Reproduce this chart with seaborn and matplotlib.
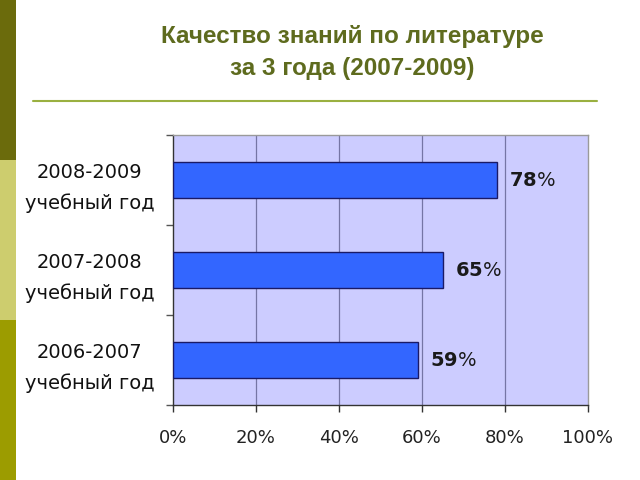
import matplotlib
matplotlib.use("Agg")
import matplotlib.pyplot as plt
import seaborn as sns
import pandas as pd
from matplotlib.patches import Rectangle
from matplotlib.lines import Line2D

categories = ["2008-2009\nучебный год", "2007-2008\nучебный год", "2006-2007\nучебный год"]
values = [78, 65, 59]
xticks = [0, 20, 40, 60, 80, 100]
xtick_labels = ["0%", "20%", "40%", "60%", "80%", "100%"]
title_line1 = "Качество знаний по литературе"
title_line2 = "за 3 года (2007-2009)"

df = pd.DataFrame({"cat": categories, "val": values})

sns.set_theme(style="white")
plt.rcParams["font.family"] = ["DejaVu Sans"]

fig = plt.figure(figsize=(6.4, 4.8), dpi=100)
fig.patch.set_facecolor("white")

# left decorative strip
for y0, h, c in [(2/3, 1/3, "#6B6B0C"), (1/3, 1/3, "#CDCD6E"), (0, 1/3, "#9C9C00")]:
    fig.patches.append(Rectangle((0, y0), 16/640, h, transform=fig.transFigure,
                                 facecolor=c, edgecolor="none", zorder=0))

# title
fig.text(352/640, 1 - 37/480, title_line1, ha="center", va="center", fontsize=17.5,
         fontweight="bold", color="#5E6B1E", family=["Liberation Sans", "DejaVu Sans"])
fig.text(352/640, 1 - 68/480, title_line2, ha="center", va="center", fontsize=17.5,
         fontweight="bold", color="#5E6B1E", family=["Liberation Sans", "DejaVu Sans"])
fig.lines.append(Line2D([33/640, 597/640], [1 - 101/480, 1 - 101/480],
                        transform=fig.transFigure, color="#9AB040", lw=1.5))

ax = fig.add_axes([173/640, 1 - 405/480, 415/640, 270/480])
ax.set_facecolor("#CCCCFF")
sns.barplot(data=df, x="val", y="cat", orient="h", order=categories, width=0.4,
            color="#3366FF", edgecolor="#1A1A66", linewidth=1, saturation=1, ax=ax,
            zorder=3)

ax.set_xlim(0, 100)
ax.set_ylim(2.5, -0.5)
ax.set_xticks(xticks)
ax.set_xticklabels(xtick_labels, fontsize=13, color="#222222")
ax.tick_params(axis="x", length=5, width=1, color="#333333", pad=12, direction="out",
               bottom=True)
ax.set_yticks(range(len(categories)))
ax.set_yticklabels(categories, fontsize=14, ha="center", linespacing=1.75, color="#111111")
ax.tick_params(axis="y", length=0, pad=60)
ax.set_yticks([-0.5, 0.5, 1.5, 2.5], minor=True)
ax.tick_params(axis="y", which="minor", length=5, width=1, color="#555555", left=True)
ax.set_xlabel("")
ax.set_ylabel("")

for x in xticks[1:-1]:
    ax.axvline(x, color="#7575A5", lw=0.9, zorder=1)

for s in ["left", "bottom"]:
    ax.spines[s].set_color("#333333")
    ax.spines[s].set_linewidth(1)
for s in ["top", "right"]:
    ax.spines[s].set_color("#9A9A9A")
    ax.spines[s].set_linewidth(1)

for i, v in enumerate(values):
    ax.text(v + 3, i, r"$\mathbf{" + str(v) + r"}$%", ha="left", va="center",
            fontsize=14, color="#1A1A1A", zorder=4)

fig.savefig("out.png", dpi=100, facecolor="white")
